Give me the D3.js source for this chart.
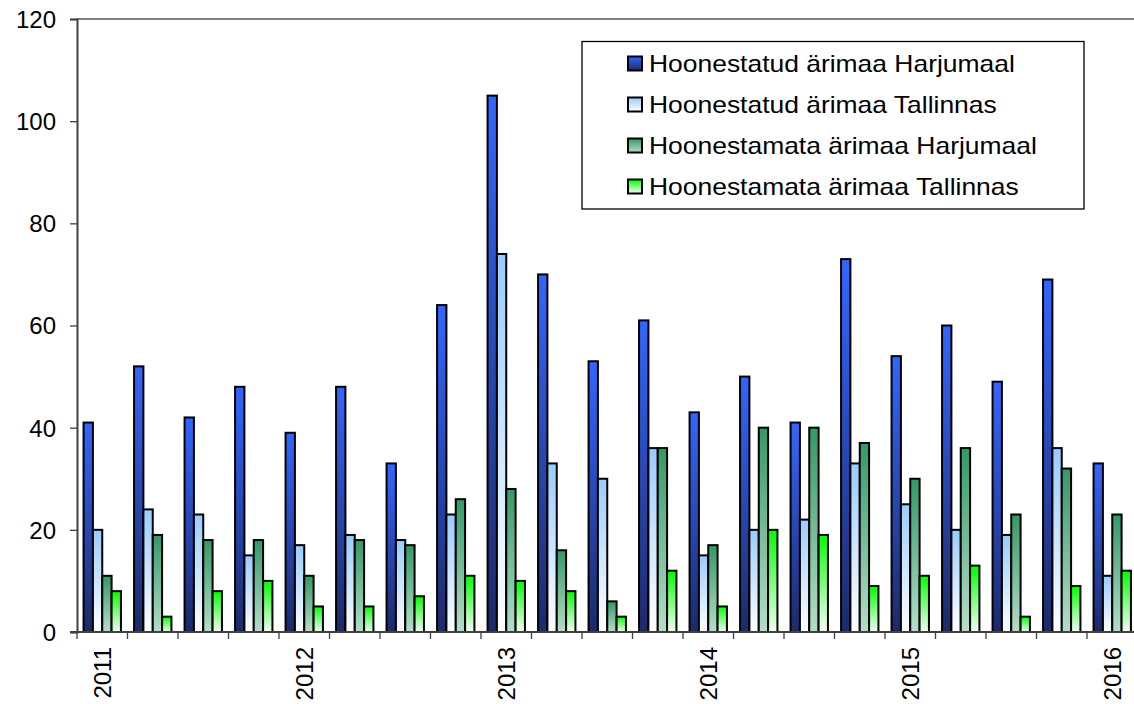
<!DOCTYPE html>
<html>
<head>
<meta charset="utf-8">
<script src="https://cdn.jsdelivr.net/npm/d3@7"></script>
<style>
  body { margin: 0; background: #fff; }
  svg text { font-family: Arial, "Liberation Sans", sans-serif; fill: #000; }
</style>
</head>
<body>
<script>
'use strict';

// quarters 2011 Q1 .. 2016 Q1
const quarters = d3.range(21).map((i) => "q" + i);
const yearLabels = ["2011", "", "", "", "2012", "", "", "", "2013", "", "", "", "2014", "", "", "", "2015", "", "", "", "2016"];
const seriesNames = [
  "Hoonestatud ärimaa Harjumaal",
  "Hoonestatud ärimaa Tallinnas",
  "Hoonestamata ärimaa Harjumaal",
  "Hoonestamata ärimaa Tallinnas"
];
const builtHarju   = [41, 52, 42, 48, 39, 48, 33, 64, 105, 70, 53, 61, 43, 50, 41, 73, 54, 60, 49, 69, 33];
const builtTallinn = [20, 24, 23, 15, 17, 19, 18, 23, 74, 33, 30, 36, 15, 20, 22, 33, 25, 20, 19, 36, 11];
const emptyHarju   = [11, 19, 18, 18, 11, 18, 17, 26, 28, 16, 6, 36, 17, 40, 40, 37, 30, 36, 23, 32, 23];
const emptyTallinn = [8, 3, 8, 10, 5, 5, 7, 11, 10, 8, 3, 12, 5, 20, 19, 9, 11, 13, 3, 9, 12];
const yTicks = [0, 20, 40, 60, 80, 100, 120];

const series = [builtHarju, builtTallinn, emptyHarju, emptyTallinn];
// gradient colours, top -> bottom
const grads = [
  ["#3366ff", "#1c2a6a"],
  ["#99ccff", "#ffffff"],
  ["#339966", "#b4dec8"],
  ["#00ff00", "#f2fff2"]
];

const W = 1134, H = 704;
const margin = {top: 19, left: 77, bottom: 72};
const plotRight = 1137.5;

const svg = d3.select("body").append("svg")
  .attr("width", W).attr("height", H);

const defs = svg.append("defs");
grads.forEach((g, i) => {
  const lg = defs.append("linearGradient")
    .attr("id", "grad" + i)
    .attr("x1", 0).attr("y1", 0).attr("x2", 0).attr("y2", 1);
  lg.append("stop").attr("offset", "0%").attr("stop-color", g[0]);
  lg.append("stop").attr("offset", "100%").attr("stop-color", g[1]);
});

const x0 = d3.scaleBand().domain(quarters)
  .range([margin.left, plotRight])
  .paddingInner(0.26).paddingOuter(0.13);
const x1 = d3.scaleBand().domain(d3.range(4))
  .range([0, x0.bandwidth()]);
const y = d3.scaleLinear().domain([0, 120]).range([H - margin.bottom, margin.top]);

const step = x0.step();

// top border
svg.append("line")
  .attr("x1", margin.left).attr("x2", W)
  .attr("y1", y(120)).attr("y2", y(120))
  .attr("stroke", "#808080").attr("stroke-width", 2);

// bars
const groups = svg.selectAll(".grp")
  .data(quarters)
  .enter().append("g")
  .attr("class", "grp")
  .attr("transform", (d) => "translate(" + x0(d) + ",0)");

groups.selectAll("rect")
  .data((d, gi) => series.map((s, si) => ({si: si, v: s[gi]})))
  .enter().append("rect")
  .attr("x", (d) => x1(d.si))
  .attr("y", (d) => y(d.v))
  .attr("width", x1.bandwidth())
  .attr("height", (d) => y(0) - y(d.v))
  .attr("fill", (d) => "url(#grad" + d.si + ")")
  .attr("stroke", "#000")
  .attr("stroke-width", 2);

// y axis
const yAxis = d3.axisLeft(y).tickValues(yTicks).tickSize(7).tickPadding(14);
const yg = svg.append("g")
  .attr("transform", "translate(" + margin.left + ",0)")
  .call(yAxis);
yg.select(".domain").attr("stroke", "#404040").attr("stroke-width", 2);
yg.selectAll(".tick line").attr("stroke", "#404040").attr("stroke-width", 1.3);
yg.selectAll(".tick text").style("font-size", "24px").attr("dy", "0.35em");

// x axis line and boundary ticks
svg.append("line")
  .attr("x1", margin.left - 7).attr("x2", W)
  .attr("y1", y(0)).attr("y2", y(0))
  .attr("stroke", "#404040").attr("stroke-width", 2);

svg.selectAll(".xtick")
  .data(quarters)
  .enter().append("line")
  .attr("class", "xtick")
  .attr("x1", (d) => x0(d) - x0.paddingOuter() * step)
  .attr("x2", (d) => x0(d) - x0.paddingOuter() * step)
  .attr("y1", y(0)).attr("y2", y(0) + 7)
  .attr("stroke", "#404040").attr("stroke-width", 1.3);

svg.selectAll(".xlab")
  .data(quarters)
  .enter().append("text")
  .attr("class", "xlab")
  .attr("transform", (d) => "translate(" + (x0(d) + x0.bandwidth() / 2 + 8.5) + "," + (y(0) + 15) + ") rotate(-90)")
  .attr("text-anchor", "end")
  .style("font-size", "24px")
  .text((d, i) => yearLabels[i]);

// legend
const legend = svg.append("g").attr("class", "legend");
legend.append("rect")
  .attr("x", 582).attr("y", 41.5)
  .attr("width", 502).attr("height", 167.5)
  .attr("fill", "#fff").attr("stroke", "#000").attr("stroke-width", 1.3);

const rows = legend.selectAll(".row")
  .data(seriesNames)
  .enter().append("g")
  .attr("transform", (d, i) => "translate(628," + (56.5 + i * 41) + ")");

rows.append("rect")
  .attr("width", 14).attr("height", 14)
  .attr("fill", (d, i) => "url(#grad" + i + ")")
  .attr("stroke", "#000").attr("stroke-width", 2);

// the legend text in the original is a bit wider than plain Arial
rows.append("text")
  .attr("transform", "translate(21,15.5) scale(1.15,1)")
  .style("font-size", "23px")
  .text((d) => d);
</script>
</body>
</html>
